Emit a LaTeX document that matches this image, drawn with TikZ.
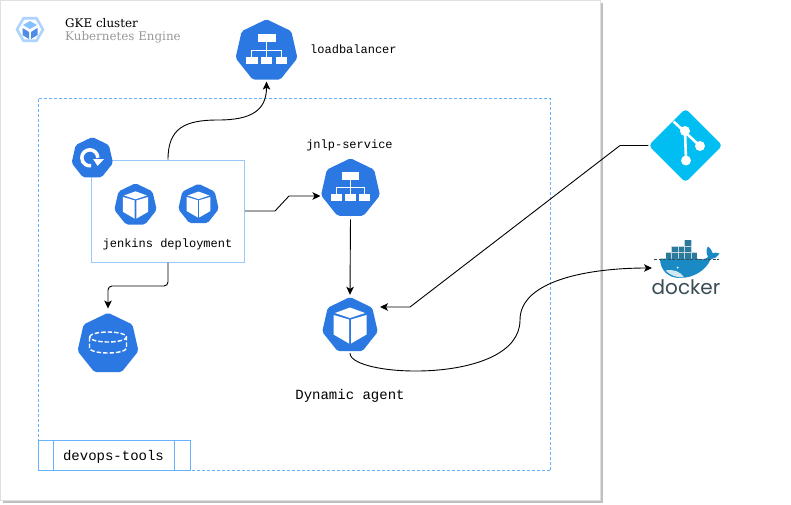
\documentclass[tikz,border=0pt]{standalone}
\usepackage{fontspec}
\setmainfont{DejaVu Serif}
\setmonofont{Liberation Mono}
\newfontfamily\dockerfont{Poppins}
\usetikzlibrary{shapes.geometric,arrows.meta}
\definecolor{kubeblue}{HTML}{2C78E3}
\definecolor{boxblue}{HTML}{99C8FF}
\definecolor{dashblue}{HTML}{66B2FF}
\definecolor{gitblue}{HTML}{00BEF2}
\definecolor{hullblue}{HTML}{1A8AC4}
\definecolor{crateblue}{HTML}{2B7A9B}
\definecolor{dockergrey}{HTML}{394D54}

\tikzset{
  podcube/.pic={
    \fill[white] (-16.5,-10.5) -- (-1,-6) -- (-1,18) -- (-16.5,9) -- cycle;
    \fill[white] (16.5,-10.5) -- (1,-6) -- (1,18) -- (16.5,9) -- cycle;
    \fill[white] (-15,-12.5) -- (0,-18) -- (15,-12.5) -- (0,-7.5) -- cycle;
  },
  lbtree/.pic={
    \fill[white] (-9,-17) rectangle (9,-9);
    \fill[white] (-20.5,5.5) rectangle (-9,13);
    \fill[white] (-5.5,5.5) rectangle (5.5,13);
    \fill[white] (9,5.5) rectangle (20.5,13);
    \draw[white, line width=1pt] (0,-9) -- (0,5.5) (-15,5.5) -- (-15,-1) -- (15,-1) -- (15,5.5);
  },
  pvdisk/.pic={
    \draw[white, line width=1.4pt, dash pattern=on 4.5pt off 2pt]
      (-18.5,-7) arc[start angle=180, end angle=540, x radius=18.5, y radius=5]
      (-18.5,-7) -- (-18.5,4) arc[start angle=180, end angle=0, x radius=18.5, y radius=5] -- (18.5,-7);
  },
  rsarrow/.pic={
    \draw[white, line width=3.5pt] (5.5,-0.5) arc[start angle=0, end angle=-280, radius=8];
    \fill[white] (0.8,0.8) -- (11.8,0.8) -- (5.2,7.5) -- cycle;
  },
}

\begin{document}
\begin{tikzpicture}[
    x=1pt, y=-1pt,
    >={Stealth[black, length=8pt, width=7.5pt, inset=2pt]},
    kubenode/.style={
      regular polygon, regular polygon sides=7, fill=kubeblue, inner sep=0pt,
      rounded corners=2pt, outer sep=2pt
    },
    monotext/.style={font=\ttfamily\fontsize{12}{14}\selectfont, inner sep=0pt},
    bigmono/.style={font=\ttfamily\fontsize{14}{16}\selectfont, inner sep=0pt},
    flow/.style={draw=black, line width=0.9pt, ->},
  ]
  \useasboundingbox (0,0) rectangle (791,504);
  \fill[black!25] (3,3) rectangle (603,503);
  \draw[fill=white, draw=black!12, line width=1pt] (0.5,0.5) rectangle (600.5,500.5);

  % cluster title
  \node[regular polygon, regular polygon sides=6, draw=boxblue!80, line width=2.6pt, minimum size=26pt, inner sep=0pt] (gke) at (30,29.5) {};
  \fill[dashblue!80] (30,21) -- (37,25) -- (30,29) -- (23,25) -- cycle;
  \fill[kubeblue!85] (22.5,28) -- (29,32) -- (29,39) -- (22.5,35) -- cycle;
  \fill[kubeblue!85] (37.5,28) -- (31,32) -- (31,39) -- (37.5,35) -- cycle;
  \node[anchor=west, inner sep=0pt, font=\fontsize{11.9}{14}\selectfont] (title) at (65,23.5) {GKE cluster};
  \node[anchor=west, inner sep=0pt, font=\fontsize{11.9}{14}\selectfont, text=black!40] (engine) at (65,37.5) {Kubernetes Engine};

  % namespace
  \draw[dashblue, line width=0.9pt, dash pattern=on 3pt off 2pt] (38.5,98.5) rectangle (550.5,470.5);
  \node[draw=dashblue, fill=white, line width=0.9pt, minimum width=151.5pt, minimum height=30pt, inner sep=0pt, outer sep=0pt] (tools) at (114.25,455.5) {};
  \draw[dashblue, line width=0.9pt] (53,440.5) -- (53,470.5) (174.5,440.5) -- (174.5,470.5);
  \node[bigmono] (toolslabel) at (113.5,456.5) {devops-tools};

  % services and pods
  \node[kubenode, minimum size=63.5pt] (lb) at (266.5,51) {};
  \pic at (lb) {lbtree};
  \node[monotext, anchor=west] (lblabel) at (310,49.5) {loadbalancer};

  \node[draw=boxblue, fill=white, line width=1pt, minimum width=153pt, minimum height=102pt, inner sep=0pt] (deploy) at (168,211) {};
  \node[kubenode, minimum size=42.5pt] (rs) at (92.3,158.3) {};
  \pic at (rs) {rsarrow};
  \node[kubenode, minimum size=43.5pt] (podA) at (135.5,205) {};
  \pic[scale=0.76] at (podA) {podcube};
  \node[kubenode, minimum size=41.5pt] (podB) at (198.5,204.5) {};
  \pic[scale=0.72] at (podB) {podcube};
  \node[monotext] (deploylabel) at (167.5,244) {jenkins deployment};

  \node[kubenode, minimum size=60.5pt] (jnlp) at (350.5,188.5) {};
  \pic[scale=0.95] at (jnlp) {lbtree};
  \node[monotext] (jnlplabel) at (349.5,145) {jnlp-service};

  \node[kubenode, minimum size=57pt] (agent) at (350,325.5) {};
  \pic at (agent) {podcube};
  \node[bigmono] (agentlabel) at (350,395.5) {Dynamic agent};

  \node[kubenode, minimum size=62.5pt] (pv) at (108,344) {};
  \pic at (pv) {pvdisk};

  % git
  \node[diamond, aspect=1, fill=gitblue, rounded corners=4pt, minimum size=74pt, inner sep=0pt] (git) at (685.5,145.5) {};
  \draw[white, line width=2.6pt] (673.5,121.5) -- (700,146) (685,131) -- (686,160.5);
  \fill[white] (685,131) circle[radius=5] (700,146) circle[radius=5] (686,160.5) circle[radius=5];

  % docker
  \coordinate (dockerin) at (652,268);
  \fill[crateblue] (665.5,252) rectangle (697,258.5);
  \fill[crateblue] (671.5,246) rectangle (691,252);
  \fill[crateblue] (684.5,240) rectangle (691,246);
  \draw[white!70!crateblue, line width=0.4pt] (665.5,252) -- (697,252) (671.5,246) -- (691,246)
    (671.5,246) -- (671.5,258.5) (678,246) -- (678,258.5) (684.5,240) -- (684.5,258.5) (691,240) -- (691,258.5);
  \fill[hullblue] (660,258.5) -- (697,258.5) .. controls (701,260) and (705,259.5) .. (708,257)
    .. controls (706,253) and (706,249) .. (708,246.5) .. controls (710,248) and (712,250) .. (712.5,253)
    .. controls (715,252.5) and (717,252.5) .. (719.5,253.5) .. controls (717,257) and (714,259) .. (710.5,259.5)
    .. controls (706,270) and (694,278) .. (680,278) .. controls (668,278) and (660,270) .. (660,258.5) -- cycle;
  \fill[white!80!hullblue] (665.5,270.5) .. controls (673,269) and (680,271) .. (684,277.5)
    .. controls (676,277.8) and (670,275) .. (665.5,270.5) -- cycle;
  \fill[white] (677.7,267.7) circle[radius=1];
  \draw[dockergrey, line width=0.5pt, dash pattern=on 3pt off 1.5pt] (654,259) -- (719,259);
  \node[inner sep=0pt, font=\dockerfont\fontsize{20}{24}\selectfont, text=dockergrey] (dockerlabel) at (686,287.5) {docker};

  % connectors
  \coordinate (lbcurve) at (218,120);
  \coordinate (jnlpbendA) at (275,211);
  \coordinate (jnlpbendB) at (289,196);
  \coordinate (jnlpin) at (jnlp.west |- jnlpbendB);
  \coordinate (gitbendA) at (620,145.5);
  \coordinate (gitbendB) at (410,307);
  \coordinate (agentin) at (380,307);
  \coordinate (pvbend) at (168,286);
  \coordinate (dockermid) at (520,320);
  \draw[flow] (deploy.north) .. controls (168,128) and (185,120) .. (lbcurve)
    .. controls (252,120) and (266.5,110) .. (lb.south);
  \draw[flow] (deploy.east |- jnlpbendA) -- (jnlpbendA) -- (jnlpbendB) -- (jnlpin);
  \draw[flow, shorten <=1.5pt] (jnlp.south) -- (agent.north);
  \draw[flow, rounded corners=4pt, shorten >=2pt] (deploy.south) -- (pvbend) -- (pv.north |- pvbend) -- (pv.north);
  \draw[flow] (git.west) -- (gitbendA) -- (gitbendB) -- (agentin);
  \draw[flow] (agent.south) .. controls (350,378) and (520,385) .. (dockermid)
    .. controls (520,280) and (590,268) .. (dockerin);
\end{tikzpicture}
\end{document}
